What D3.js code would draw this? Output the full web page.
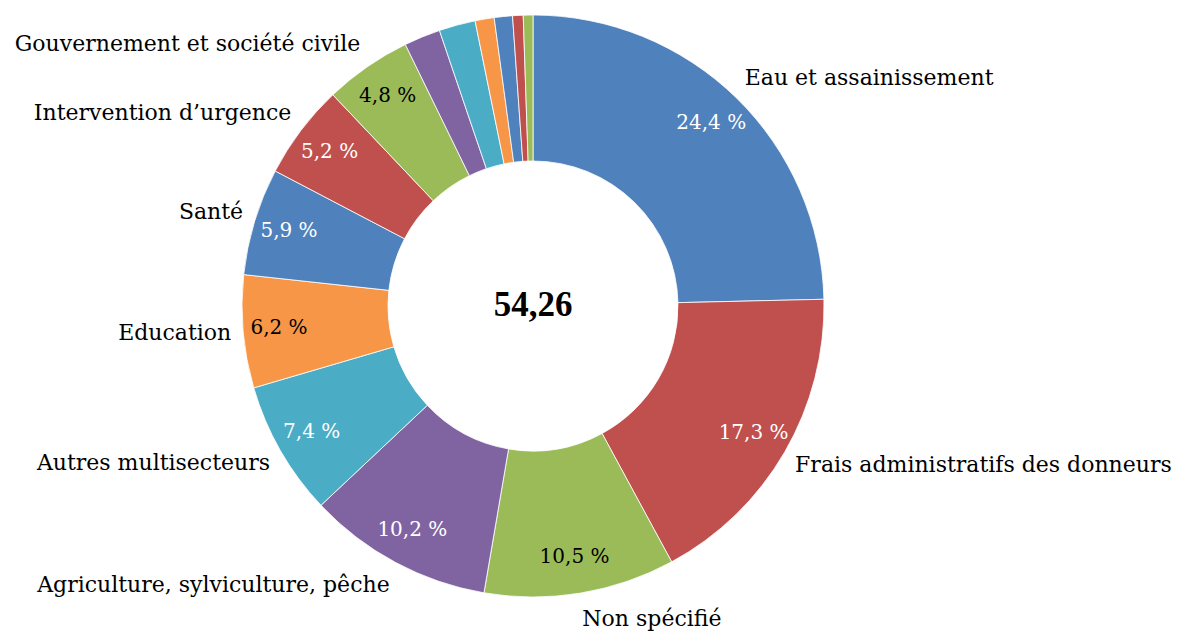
<!DOCTYPE html>
<html>
<head>
<meta charset="utf-8">
<script src="https://cdn.jsdelivr.net/npm/d3@7"></script>
<style>
  body { margin: 0; background: #fff; }
  #chart { width: 1179px; height: 631px; }
  text { font-family: "DejaVu Serif", "Liberation Serif", serif; }
</style>
</head>
<body>
<div id="chart"></div>
<script>
// sectors, clockwise from 12 o'clock
const categories = [
  "Eau et assainissement", "Frais administratifs des donneurs", "Non spécifié",
  "Agriculture, sylviculture, pêche", "Autres multisecteurs", "Education", "Santé",
  "Intervention d\u2019urgence", "Gouvernement et société civile",
  "", "", "", "", "", ""
];
const shares = [24.4, 17.3, 10.5, 10.2, 7.4, 6.2, 5.9, 5.2, 4.8, 2.0, 2.0, 1.05, 1.0, 0.58, 0.53];
const shareLabels = ["24,4 %", "17,3 %", "10,5 %", "10,2 %", "7,4 %", "6,2 %", "5,9 %", "5,2 %", "4,8 %", "", "", "", "", "", ""];
const totalLabel = "54,26";

const palette = ["#4F81BD", "#C0504D", "#9BBB59", "#8064A2", "#4BACC6", "#F79646"];
const darkText = ["#9BBB59", "#F79646"];

const width = 1179, height = 631;
const cx = 533, cy = 306;
const outerR = 291, innerR = 145;
const nameR = 303;

const svg = d3.select("#chart").append("svg")
  .attr("width", width)
  .attr("height", height);

const g = svg.append("g").attr("transform", `translate(${cx},${cy})`);

const data = shares.map((v, i) => ({
  name: categories[i],
  value: v,
  label: shareLabels[i],
  color: palette[i % palette.length]
}));

const pie = d3.pie().sort(null).value(d => d.value);
const arcs = pie(data);

const arc = d3.arc().innerRadius(innerR).outerRadius(outerR);
const pctArc = d3.arc().innerRadius(255).outerRadius(255);

g.selectAll("path.slice")
  .data(arcs)
  .enter().append("path")
  .attr("class", "slice")
  .attr("d", arc)
  .attr("fill", d => d.data.color)
  .attr("stroke", "#fff")
  .attr("stroke-width", 0.8);

// percentage labels inside the ring
g.selectAll("text.pct")
  .data(arcs.filter(d => d.data.label))
  .enter().append("text")
  .attr("class", "pct")
  .attr("transform", d => `translate(${pctArc.centroid(d)})`)
  .attr("text-anchor", "middle")
  .attr("dominant-baseline", "middle")
  .style("font-size", "20px")
  .style("fill", d => darkText.includes(d.data.color) ? "#000" : "#fff")
  .text(d => d.data.label);

// category names outside, pushed away from the ring
const mid = d => (d.startAngle + d.endAngle) / 2;
g.selectAll("text.name")
  .data(arcs.filter(d => d.data.name))
  .enter().append("text")
  .attr("class", "name")
  .attr("x", d => nameR * Math.sin(mid(d)))
  .attr("y", d => -nameR * Math.cos(mid(d)) - 15 * Math.cos(mid(d)))
  .attr("text-anchor", d => mid(d) < Math.PI + 0.15 ? "start" : "end")
  .attr("dominant-baseline", "middle")
  .style("font-size", "22px")
  .style("fill", "#000")
  .text(d => d.data.name);

g.append("text")
  .attr("text-anchor", "middle")
  .attr("dominant-baseline", "middle")
  .attr("y", 2)
  .style("font-family", "'Liberation Serif', serif")
  .style("font-size", "35px")
  .style("font-weight", "bold")
  .style("fill", "#000")
  .text(totalLabel);
</script>
</body>
</html>
